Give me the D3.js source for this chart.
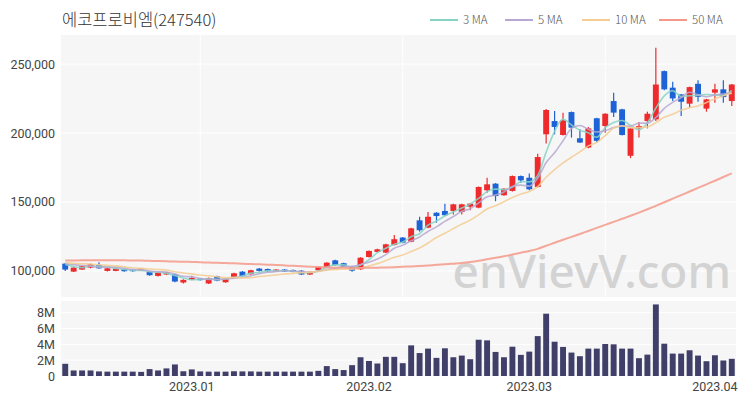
<!DOCTYPE html>
<html><head><meta charset="utf-8">
<script src="https://cdn.jsdelivr.net/npm/d3@7"></script>
<style>body{margin:0;background:#fff} svg{display:block}</style>
</head><body><svg id="c" width="750" height="400"></svg>
<script>
const title = "에코프로비엠(247540)";
const dates = [
"2022-12-09","2022-12-12","2022-12-13","2022-12-14","2022-12-15","2022-12-16","2022-12-19","2022-12-20","2022-12-21","2022-12-22","2022-12-23","2022-12-26","2022-12-27","2022-12-28","2022-12-29",
"2023-01-02","2023-01-03","2023-01-04","2023-01-05","2023-01-06","2023-01-09","2023-01-10","2023-01-11","2023-01-12","2023-01-13","2023-01-16","2023-01-17","2023-01-18","2023-01-19","2023-01-20","2023-01-25","2023-01-26","2023-01-27","2023-01-30","2023-01-31",
"2023-02-01","2023-02-02","2023-02-03","2023-02-06","2023-02-07","2023-02-08","2023-02-09","2023-02-10","2023-02-13","2023-02-14","2023-02-15","2023-02-16","2023-02-17","2023-02-20","2023-02-21","2023-02-22","2023-02-23","2023-02-24","2023-02-27","2023-02-28",
"2023-03-02","2023-03-03","2023-03-06","2023-03-07","2023-03-08","2023-03-09","2023-03-10","2023-03-13","2023-03-14","2023-03-15","2023-03-16","2023-03-17","2023-03-20","2023-03-21","2023-03-22","2023-03-23","2023-03-24","2023-03-27","2023-03-28","2023-03-29","2023-03-30","2023-03-31",
"2023-04-03","2023-04-04","2023-04-05"];
const open = [105300,99500,101000,102400,104300,100000,100000,101200,101000,100200,
99500,96400,97400,97600,91600,93500,94400,90900,96100,91800,
95700,99500,97600,101700,101400,99800,101000,100700,100200,97400,
100500,102600,107700,105600,103100,101200,110100,113800,113300,118800,
124200,121200,136700,131400,142200,143500,143500,142800,146600,145900,
158500,163300,154900,158000,168800,167600,160900,199100,208700,198600,
215200,196200,189500,210700,205100,223200,217200,183500,203400,208700,
209900,244900,232900,228000,221300,235700,217700,229300,231700,223200];
const high = [105800,102800,103800,105300,106300,102300,102000,101600,101300,102000,
99800,99200,99400,98000,93900,96600,94800,95300,96500,94800,
98600,99900,100900,102100,101700,101400,101300,101000,100500,99800,
103200,106300,108200,106000,103400,110000,114800,116100,119800,126000,
124600,131300,139300,142700,142600,148800,148700,148700,149200,161300,
167600,163700,160000,169200,169200,170600,185000,217500,216000,214800,
215600,202700,204400,211100,214400,229300,217600,203800,208000,215500,
261800,245300,237200,228400,233700,238200,224800,235700,238200,235600];
const low = [100000,99200,100600,101900,101500,99600,99700,99500,99500,99900,
96500,96000,97000,91800,90800,93200,93000,90500,92600,91400,
95400,96000,97300,99600,99500,99500,99200,99000,97000,97100,
100200,102300,103800,102800,99500,100800,109800,113400,113000,118400,
120100,120800,128500,131000,135000,140000,141000,141000,144000,145500,
156700,150600,154500,157600,164000,158500,160500,192400,199100,198200,
196700,192700,189000,193100,200300,211600,198200,181800,196700,203400,
208700,231000,223200,212300,218400,222700,215500,222000,222000,219600];
const close = [101000,102400,103400,104800,101900,101900,101700,99800,99800,101700,
96900,98800,99000,92300,93500,94900,93300,94900,93000,94400,
98300,96400,100500,100000,99800,101000,99500,99300,97400,99500,
102900,106000,104200,103100,100200,109600,114500,115700,119300,123000,
120500,130900,129500,139300,139800,140400,148300,148300,148800,160900,
162800,154300,159600,168800,165700,159200,182600,216700,204400,209200,
203900,193100,203400,194300,214000,214800,198600,203400,205100,214000,
235200,231700,225100,222700,233300,226300,224400,231700,226100,235200];
const volume = [1.54,0.7,0.7,0.7,0.58,0.55,0.55,0.55,0.55,0.52,
0.87,0.7,0.96,1.46,0.6,0.83,0.58,0.55,0.55,0.55,
0.6,0.58,0.58,0.55,0.55,0.55,0.55,0.55,0.55,0.55,
0.65,1.25,0.87,0.75,1.37,2.37,1.9,1.58,2.42,2.42,
1.62,3.87,2.9,3.46,2.29,3.5,2.37,2.58,2.12,4.58,
4.5,3.04,2.37,3.7,2.67,3.08,5.04,7.87,4.33,3.67,
2.96,2.5,3.46,3.46,4.04,4.0,3.46,3.46,2.25,2.7,
9.04,4.08,2.83,2.83,3.25,2.58,1.87,2.62,1.96,2.17].map(v=>v*1e6);
// closes before the first visible day (implied by the MA lines' start)
const priorCloses = [107500,106800,106500,107200,106300,105800,106400,107000,106000];
const ma50 = [107500,107600,107700,107700,107800,107800,107800,107700,107600,107500,
107300,107200,107000,106800,106700,106500,106300,106100,105900,105700,
105500,105200,105000,104800,104500,104300,104000,103700,103400,103100,
102800,102600,102400,102300,102200,102200,102300,102400,102500,102700,
103000,103300,103600,104000,104400,104800,105300,105800,106500,107400,
108500,109500,110600,111900,113200,114400,116000,118300,120400,122600,
124700,126800,129000,131200,133400,135600,137800,140000,142300,144700,
147200,149800,152400,155000,157600,160200,162800,165400,168100,170800];
const priceTicks = [100000,150000,200000,250000];
const volTicks = [0,2e6,4e6,6e6,8e6];
const xTickDates = ["2023-01-02","2023-02-02","2023-03-02","2023-04-03"];
const xTickLabels = ["2023.01","2023.02","2023.03","2023.04"];
const maNames = ["3 MA","5 MA","10 MA","50 MA"];
const maColors = ["#86d3c6","#b6a8d2","#f3cd92","#f4998a"];

const svg = d3.select("#c");
const FONT = "'Noto Sans CJK KR','Noto Sans',sans-serif";
const AXF = "Roboto,'Noto Sans',sans-serif";
const X0=61, X1=736, mainTop=35, mainBot=297, volTop=301, volBot=376;
const UP="#ee2a2d", DOWN="#1d63d6";

const x = d3.scaleBand().domain(dates).range([X0,X1]).paddingInner(0.3).paddingOuter(0.15);
const cx = d => x(d)+x.bandwidth()/2;
const y = d3.scaleLinear().domain([81100,271100]).range([mainBot,mainTop]);
const yv = d3.scaleLinear().domain([0,9.6e6]).range([volBot,300]);

// backgrounds
svg.append("rect").attr("x",X0).attr("y",mainTop).attr("width",X1-X0).attr("height",mainBot-mainTop).attr("fill","#f6f6f6");
svg.append("rect").attr("x",X0).attr("y",volTop).attr("width",X1-X0).attr("height",volBot-volTop).attr("fill","#f6f6f6");

// grid
svg.append("g").selectAll("line").data(priceTicks).join("line")
  .attr("x1",X0).attr("x2",X1).attr("y1",d=>y(d)).attr("y2",d=>y(d)).attr("stroke","#fff").attr("stroke-width",1);
svg.append("g").selectAll("line").data(volTicks.slice(1)).join("line")
  .attr("x1",X0).attr("x2",X1).attr("y1",d=>yv(d)).attr("y2",d=>yv(d)).attr("stroke","#fff").attr("stroke-width",1);
svg.append("g").selectAll("line").data([dates[16],dates[40],dates[64]]).join("line")
  .attr("x1",d=>cx(d)).attr("x2",d=>cx(d)).attr("y1",mainTop).attr("y2",mainBot).attr("stroke","#fff").attr("stroke-width",1);

// watermark
svg.append("text").attr("x",731).attr("y",288).attr("text-anchor","end")
  .attr("font-family","'Noto Sans',sans-serif").attr("font-size",46).attr("font-weight",500)
  .attr("fill","#d3d3d3").text("enVievV.com");

// axes
const ya = svg.append("g").attr("transform",`translate(${X0-3},0)`)
  .call(d3.axisLeft(y).tickValues(priceTicks).tickFormat(d3.format(",")).tickSize(0));
const yva = svg.append("g").attr("transform",`translate(${X0-3},0)`)
  .call(d3.axisLeft(yv).tickValues(volTicks).tickFormat(d=>d===0?"0":(d/1e6)+"M").tickSize(0));
const xa = svg.append("g").attr("transform",`translate(0,${volBot})`)
  .call(d3.axisBottom(x).tickValues(xTickDates).tickFormat((d,i)=>xTickLabels[i]).tickSize(0));
[ya,yva,xa].forEach(g=>{g.select(".domain").remove();
  g.selectAll("text").attr("font-family",AXF).attr("font-size",12.5).attr("fill","#444");});
xa.selectAll("text").attr("dy","0.95em");

// volume bars
svg.append("g").selectAll("rect").data(dates).join("rect")
  .attr("x",d=>x(d)).attr("width",x.bandwidth())
  .attr("y",(d,i)=>yv(volume[i])).attr("height",(d,i)=>volBot-yv(volume[i]))
  .attr("fill","#3f3f6a");

// candles
const cg = svg.append("g");
cg.selectAll("line").data(dates).join("line")
  .attr("x1",d=>cx(d)).attr("x2",d=>cx(d))
  .attr("y1",(d,i)=>y(high[i])).attr("y2",(d,i)=>y(low[i]))
  .attr("stroke",(d,i)=>close[i]>=open[i]?UP:DOWN).attr("stroke-width",1.2);
cg.selectAll("rect").data(dates).join("rect")
  .attr("x",d=>x(d)).attr("width",x.bandwidth())
  .attr("y",(d,i)=>y(Math.max(open[i],close[i])))
  .attr("height",(d,i)=>Math.max(1,Math.abs(y(open[i])-y(close[i]))))
  .attr("fill",(d,i)=>close[i]>=open[i]?UP:DOWN);

// moving averages
const allC = priorCloses.concat(close);
const P = priorCloses.length;
const ma = n => close.map((c,i)=>d3.mean(allC.slice(Math.max(0,i+P-n+1), i+P+1)));
const maSeries = [ma(3),ma(5),ma(10),ma50];
const line = d3.line().x((v,i)=>cx(dates[i])).y(v=>y(v)).curve(d3.curveMonotoneX);
svg.append("g").selectAll("path").data(maSeries).join("path")
  .attr("d",d=>line(d)).attr("fill","none")
  .attr("stroke",(d,i)=>maColors[i]).attr("stroke-width",(d,i)=>i===3?2:1.6).attr("opacity",0.85);

// title
svg.append("text").attr("x",62).attr("y",26).attr("font-family",FONT).attr("font-size",16.5)
  .attr("font-weight",300).attr("fill","#333").text(title);

// legend
const legX = [430,505,582,659];
const lg = svg.append("g").selectAll("g").data(maNames).join("g")
  .attr("transform",(d,i)=>`translate(${legX[i]},24)`);
lg.append("line").attr("x1",0).attr("x2",28).attr("y1",-4).attr("y2",-4)
  .attr("stroke",(d,i)=>maColors[i]).attr("stroke-width",2);
lg.append("text").attr("x",33).attr("y",0).attr("font-family",FONT).attr("font-size",11.5)
  .attr("font-weight",300).attr("fill","#555").text(d=>d);
</script></body></html>
